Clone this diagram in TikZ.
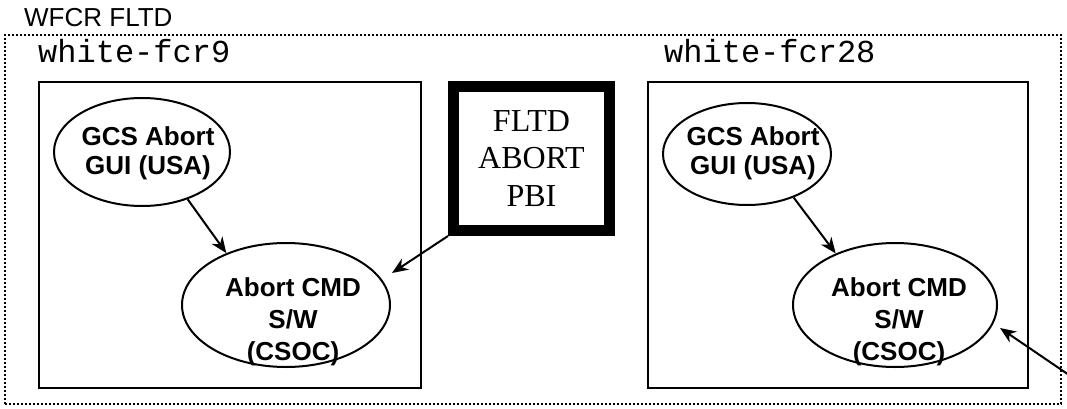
\documentclass[tikz,border=0pt]{standalone}
\usepackage{fontspec}
\setmainfont{Liberation Sans}
\setmonofont{Liberation Mono}
\newfontfamily\serifface{Liberation Serif}
\usepackage{tikz}
\usetikzlibrary{shapes.geometric,arrows.meta,calc}

\begin{document}
\begin{tikzpicture}[x=1pt,y=-1pt,
  hostbox/.style={draw, line width=2pt, minimum width=382pt, minimum height=306pt, inner sep=0pt},
  proc/.style={draw, ellipse, line width=2pt, inner sep=0pt},
  proctext/.style={font=\fontsize{26}{29}\selectfont\bfseries, align=center},
  flow/.style={line width=2pt, -{Stealth[length=16pt,width=13pt,inset=5pt]}},
  hostname/.style={font=\ttfamily\fontsize{32}{32}\selectfont, anchor=base west, inner sep=0pt}]

\useasboundingbox (0,0) rectangle (1067,409);

\node[draw, line width=2pt, dash pattern=on 2pt off 2pt, minimum width=1056pt, minimum height=369pt, inner sep=0pt] (fltd) at (533,219.5) {};

\node[anchor=base west, inner sep=0pt, font=\fontsize{26}{26}\selectfont] (fltdname) at (24,27) {WFCR FLTD};

\node[hostname] (nameA) at (38,63) {white-fcr9};
\node[hostname] (nameB) at (664,63) {white-fcr28};

\node[hostbox] (hostA) at (230,235) {};
\node[hostbox, minimum width=380pt] (hostB) at (838,235) {};

\node[draw, line width=11pt, minimum width=156pt, minimum height=144pt, inner sep=0pt, align=center, font=\serifface\fontsize{32}{37.5}\selectfont] (pbi) at (531.5,158.5) {FLTD\\ABORT\\PBI};

\node[proc, minimum width=176pt, minimum height=108pt, label={[proctext, xshift=6pt, yshift=-1pt]center:{GCS Abort\\GUI (USA)}}] (gcsA) at (142,152) {};
\node[proc, minimum width=208pt, minimum height=124pt, label={[proctext, xshift=7pt, yshift=-17pt, font=\fontsize{26}{32}\selectfont\bfseries]center:{Abort CMD\\S/W\\(CSOC)}}] (cmdA) at (286,305) {};

\node[proc, minimum width=168pt, minimum height=102pt, label={[proctext, xshift=6pt, yshift=1pt]center:{GCS Abort\\GUI (USA)}}] (gcsB) at (747,154) {};
\node[proc, minimum width=204pt, minimum height=124pt, label={[proctext, xshift=4pt, yshift=-17pt, font=\fontsize{26}{32}\selectfont\bfseries]center:{Abort CMD\\S/W\\(CSOC)}}] (cmdB) at (895,305) {};

\draw[flow] (gcsA.-46) -- (cmdA.139);
\draw[flow] (gcsB.-43) -- (cmdB.139);

\draw[flow] (pbi.south west) -- ([shift={(106,-32)}]cmdA.center);

\coordinate (ext) at (1069,375);
\draw[flow] (ext) -- ([shift={(105,23)}]cmdB.center);

\end{tikzpicture}
\end{document}
